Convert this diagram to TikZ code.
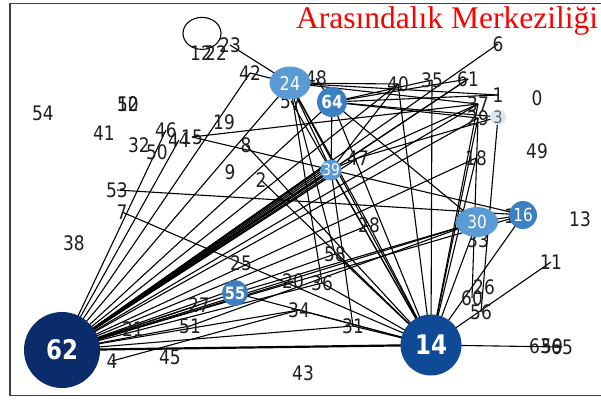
\documentclass[tikz,border=0pt]{standalone}
\usepackage{fontspec}
\usetikzlibrary{shapes.geometric,backgrounds}
\newfontfamily\labfont[FakeStretch=0.85]{DejaVu Sans}
\newfontfamily\titlefont{Liberation Serif}
\definecolor{navy}{HTML}{0B2C6B}
\definecolor{hubblue}{HTML}{0E4A95}
\definecolor{midblue}{HTML}{3D80C2}
\definecolor{lightblue}{HTML}{5B9BD5}
\definecolor{paleblue}{HTML}{DCE7F4}
\begin{document}
\begin{tikzpicture}[x=1pt,y=-1pt,
  lab/.style={font=\labfont\fontsize{20}{20}\selectfont, inner sep=0pt, text=black!88},
  hub/.style={circle, inner sep=0pt, text=white},
  oval/.style={ellipse, inner sep=0pt, text=white},
  edge/.style={draw=black, line width=1.1pt},
]
\useasboundingbox (0,0) rectangle (601,399);

% frame and title
\draw[line width=1.3pt, black!75] (10,3.5) rectangle (640,395.5);
\node[anchor=base west, inner sep=0pt, text=red,
      font=\titlefont\fontsize{31.5}{31.5}\selectfont] (title) at (296,28) {Arasındalık Merkeziliği};

% plain labelled nodes
\foreach \n/\x/\y in {0/537/98, 1/498/95, 2/261/180, 4/112/361, 6/498/44, 7/122/212,
  8/246/145, 9/230/172, 10/128/104, 52/128/104, 11/551/262, 12/201/53, 22/216/53,
  23/230/45, 13/580/219, 15/192/137, 44/179/140, 18/476/158, 19/224/122, 20/293/281,
  21/133/329, 25/241/263, 26/484/287, 27/199/305, 28/369/225, 29/478/118, 31/353/326,
  32/139/145, 34/299/310, 35/432/80, 36/322/283, 37/478/104, 38/74/243, 40/398/84,
  41/104/133, 42/250/73, 43/303/373, 45/170/357, 46/166/130, 47/358/158, 48/316/78,
  49/537/151, 50/157/152, 51/190/326, 53/117/190, 54/43/113, 56/481/312, 58/335/254,
  60/472/298, 61/468/79, 63/540/346, 59/552/346, 65/562/347, 57/291/101, 33/478/240,
  17/515/216}
  \node[lab] (l\n) at (\x,\y) {\n};

% hubs
\node[hub, fill=navy, minimum size=76pt, font=\labfont\bfseries\fontsize{27}{27}\selectfont] (n62) at (62,350) {62};
\node[hub, fill=hubblue, minimum size=61pt, font=\labfont\bfseries\fontsize{27}{27}\selectfont] (n14) at (431,345) {14};
\node[oval, fill=lightblue, minimum width=41pt, minimum height=33pt, font=\labfont\fontsize{19}{19}\selectfont] (n24) at (290,83) {24};
\node[hub, fill=midblue, minimum size=30pt, font=\labfont\bfseries\fontsize{18}{18}\selectfont] (n64) at (332,102) {64};
\node[hub, fill=lightblue, minimum size=21pt, font=\labfont\fontsize{16}{16}\selectfont] (n39) at (331,170) {39};
\node[oval, fill=lightblue, minimum width=42pt, minimum height=30pt, font=\labfont\fontsize{18}{18}\selectfont] (n30) at (477,222) {30};
\node[hub, fill=midblue, minimum size=28pt, font=\labfont\fontsize{18}{18}\selectfont] (n16) at (523,215) {16};
\node[hub, fill=midblue, minimum size=26pt, font=\labfont\bfseries\fontsize{17}{17}\selectfont] (n55) at (235,293) {55};
\node[hub, fill=paleblue, minimum size=16pt, text=black!60, font=\labfont\fontsize{17}{17}\selectfont] (n3) at (498,117) {3};

% connectors, kept beneath the nodes
\begin{scope}[on background layer]
  \fill[white] (0,0) rectangle (601,399);
  \foreach \a/\b in {n62/l46, n62/l42, n62/n24, n62/n64, n62/l6, n62/l61,
    n62/l40, n62/l37, n62/l29, n62/l18, n62/l47, n62/n30, n62/n16, n62/l28, n62/l58,
    n62/l20, n62/l36, n62/n55, n62/l27, n62/l21, n62/l51, n62/l31, n62/l34, n62/l44,
    l23/n24, l42/n24, l7/n14, l53/n16, l15/n16, l15/l37, l4/l34,
    n24/n14, l57/n14, n24/n39, n24/l28, n24/l1, n24/l37, n24/l36, n24/l40, n24/l58,
    n64/n39, n64/l1, n64/l29, n64/n3, n64/l61, n64/l35, n64/n14, n64/n30, l48/n64,
    n39/n14, n39/l31, n39/l61, n39/l40, n39/l37,
    l35/n14, l40/n14, l18/n14, l29/n14, l37/n14, n3/l56, l60/l29, n30/n14, n16/n14,
    n30/n16, l11/n14, n14/l65, n14/l36, n14/l34, n14/l31, n14/l28, n14/l58, n55/n14,
    n55/n30, l51/n30, l47/n3, l2/n14, l8/n14}
    \draw[edge] (\a.center) -- (\b.center);
  % dense bundle between 62 and 39
  \foreach \ang in {170,180,190,200,210,220,230,240}
    \draw[edge] (n62.center) -- (n39.\ang);
  % heavy link 62--14
  \draw[edge, line width=2.2pt] (n62.center) -- (n14.center);
  % self loop
  \draw[edge] (l12.north) ++(1,-12) ellipse [x radius=19, y radius=16];
\end{scope}
\end{tikzpicture}
\end{document}
